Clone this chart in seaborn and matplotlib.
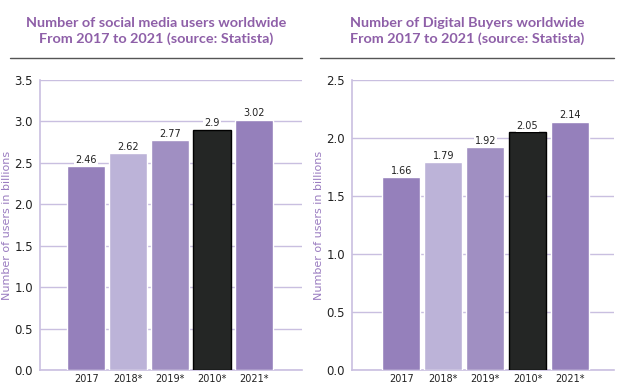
import matplotlib
matplotlib.use("Agg")
import matplotlib.pyplot as plt
import pandas as pd
import seaborn as sns
from matplotlib.lines import Line2D

years = ["2017", "2018*", "2019*", "2010*", "2021*"]
social_users = [2.46, 2.62, 2.77, 2.9, 3.02]
digital_buyers = [1.66, 1.79, 1.92, 2.05, 2.14]
bar_colors = ["#9580bb", "#bcb3d8", "#a08fc2", "#242625", "#9580bb"]
titles = [
    "Number of social media users worldwide\nFrom 2017 to 2021 (source: Statista)",
    "Number of Digital Buyers worldwide\nFrom 2017 to 2021 (source: Statista)",
]

sns.set_theme(style="white")
plt.rcParams["font.family"] = ["DejaVu Sans"]

PURPLE = "#8e5fa8"
GRID = "#c9bfe0"


def draw_panel(ax, values, ymax, xlim):
    df = pd.DataFrame({"year": years, "value": values})
    sns.barplot(data=df, x="year", y="value", hue="year", order=years,
                palette=bar_colors, width=0.9, saturation=1, legend=False, ax=ax,
                zorder=3)
    # dark bar has a black outline
    ax.patches[3].set_edgecolor("black")
    ax.patches[3].set_linewidth(1)
    for cont in ax.containers:
        ax.bar_label(cont, fmt="%g", fontsize=7, padding=1, color="#222",
                     bbox=dict(facecolor="white", edgecolor="none", pad=0.8))
    ax.set_ylim(0, ymax)
    ax.set_xlim(*xlim)
    ticks = [i * 0.5 for i in range(int(ymax / 0.5) + 1)]
    ax.set_yticks(ticks)
    ax.set_yticklabels([f"{t:.1f}" for t in ticks], fontsize=8.5, color="#222")
    ax.tick_params(axis="x", labelsize=7, colors="#222", length=0, pad=3)
    ax.tick_params(axis="y", length=0, pad=5)
    ax.yaxis.grid(True, color=GRID, linewidth=1, zorder=0)
    ax.set_axisbelow(True)
    ax.set_xlabel("")
    ax.set_ylabel("Number of users in billions", color="#9a7cc0", fontsize=8, labelpad=2)
    for side in ["top", "right"]:
        ax.spines[side].set_visible(False)
    for side in ["left", "bottom"]:
        ax.spines[side].set_color(GRID)
        ax.spines[side].set_linewidth(1.2)


fig = plt.figure(figsize=(6.4, 3.88), dpi=100)
ax1 = fig.add_axes([0.0625, 0.046, 0.409, 0.748])
ax2 = fig.add_axes([0.55, 0.046, 0.409, 0.748])

draw_panel(ax1, social_users, 3.5, (-1.1, 5.14))
draw_panel(ax2, digital_buyers, 2.5, (-1.17, 5.05))

# titles and the grey rule beneath them
for x, title in zip([156, 467], titles):
    fig.text(x / 640, 1 - 31 / 388, title, ha="center", va="center",
             fontsize=10.4, fontweight="bold", color=PURPLE, linespacing=1.25,
             family=["Lato", "DejaVu Sans"])
fig.add_artist(Line2D([10 / 640, 302 / 640], [1 - 58 / 388] * 2, color="#555555", lw=1))
fig.add_artist(Line2D([320 / 640, 614 / 640], [1 - 58 / 388] * 2, color="#555555", lw=1))

fig.savefig("out.png", dpi=100, facecolor="white")
